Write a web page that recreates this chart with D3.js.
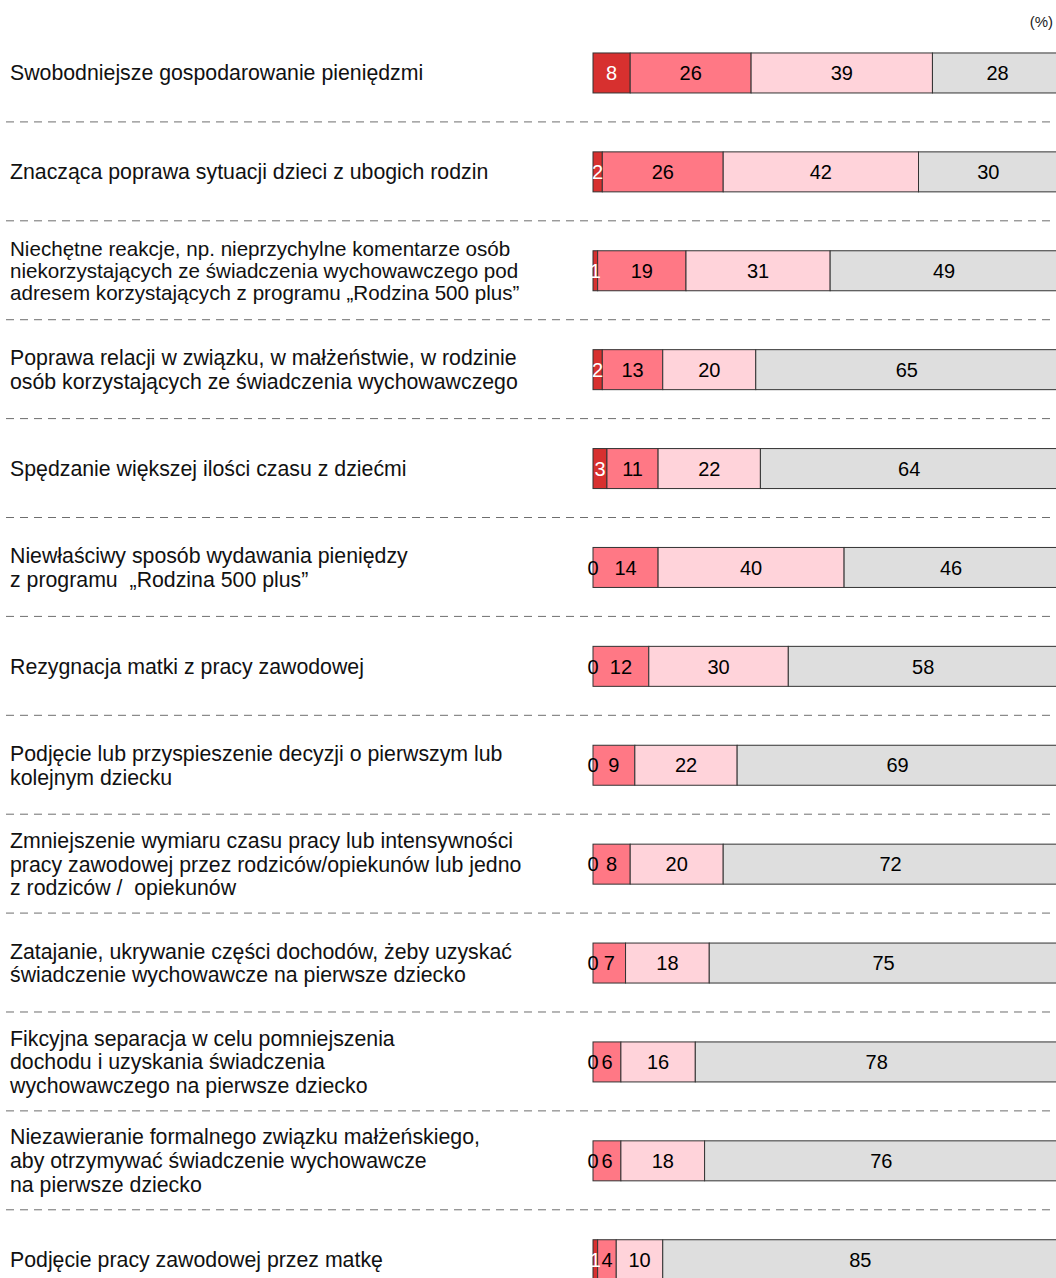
<!DOCTYPE html>
<html>
<head>
<meta charset="utf-8">
<script src="https://cdn.jsdelivr.net/npm/d3@7"></script>
<style>
body{margin:0;background:#fff;}
svg{display:block;font-family:"Liberation Sans",Arial,sans-serif;}
</style>
</head>
<body>
<div id="chart"></div>
<script>
// categories (label lines)
var categories = [
	["Swobodniejsze gospodarowanie pieniędzmi"],
	["Znacząca poprawa sytuacji dzieci z ubogich rodzin"],
	["Niechętne reakcje, np. nieprzychylne komentarze osób", "niekorzystających ze świadczenia wychowawczego pod", "adresem korzystających z programu „Rodzina 500 plus”"],
	["Poprawa relacji w związku, w małżeństwie, w rodzinie", "osób korzystających ze świadczenia wychowawczego"],
	["Spędzanie większej ilości czasu z dziećmi"],
	["Niewłaściwy sposób wydawania pieniędzy", "z programu  „Rodzina 500 plus”"],
	["Rezygnacja matki z pracy zawodowej"],
	["Podjęcie lub przyspieszenie decyzji o pierwszym lub", "kolejnym dziecku"],
	["Zmniejszenie wymiaru czasu pracy lub intensywności", "pracy zawodowej przez rodziców/opiekunów lub jedno", "z rodziców /  opiekunów"],
	["Zatajanie, ukrywanie części dochodów, żeby uzyskać", "świadczenie wychowawcze na pierwsze dziecko"],
	["Fikcyjna separacja w celu pomniejszenia", "dochodu i uzyskania świadczenia", "wychowawczego na pierwsze dziecko"],
	["Niezawieranie formalnego związku małżeńskiego,", "aby otrzymywać świadczenie wychowawcze", "na pierwsze dziecko"],
	["Podjęcie pracy zawodowej przez matkę"]
];
// series values (%)
var series1 = [8, 2, 1, 2, 3, 0, 0, 0, 0, 0, 0, 0, 1];
var series2 = [26, 26, 19, 13, 11, 14, 12, 9, 8, 7, 6, 6, 4];
var series3 = [39, 42, 31, 20, 22, 40, 30, 22, 20, 18, 16, 18, 10];
var series4 = [28, 30, 49, 65, 64, 46, 58, 69, 72, 75, 78, 76, 85];
var xDomain = [0, 100];

var colors = ["#d7302f", "#ff7885", "#ffd3da", "#dedede"];
var textColors = ["#fff", "#000", "#000", "#000"];

var width = 1056, height = 1278;
var svg = d3.select("#chart").append("svg")
	.attr("width", width)
	.attr("height", height);

var xscale = d3.scaleLinear().domain(xDomain).range([593, 1058]);
var yscale = d3.scaleBand()
	.domain(d3.range(categories.length))
	.range([23.5, 23.5 + 98.9 * categories.length])
	.paddingInner(0.5956).paddingOuter(0.298);
var barH = yscale.bandwidth();
var step = yscale.step();

svg.append("text")
	.attr("x", 1053).attr("y", 27)
	.attr("text-anchor", "end")
	.attr("font-size", 15)
	.attr("fill", "#222")
	.text("(%)");

// separators
svg.selectAll(".sep")
	.data(d3.range(1, categories.length))
	.enter().append("line")
	.attr("x1", 6).attr("x2", width)
	.attr("y1", function(d){ return yscale(d) - (step - barH) / 2 - 0.5; })
	.attr("y2", function(d){ return yscale(d) - (step - barH) / 2 - 0.5; })
	.attr("stroke", "#6e6e6e")
	.attr("stroke-width", 1)
	.attr("stroke-dasharray", "8,6");

// labels
categories.forEach(function(lines, i){
	var cy = yscale(i) + barH / 2;
	var lh = i == 2 ? 21.7 : 23.8;
	var t = svg.append("text")
		.attr("font-size", i == 2 ? 20.6 : 21.3)
		.attr("fill", "#111")
		.style("white-space", "pre");
	lines.forEach(function(l, j){
		t.append("tspan")
			.attr("x", 10)
			.attr("y", cy + (j - (lines.length - 1) / 2) * lh)
			.attr("dy", "0.35em")
			.text(l);
	});
});

// stacked bars
var all = [series1, series2, series3, series4];
categories.forEach(function(c, i){
	var acc = 0;
	var g = svg.append("g");
	all.forEach(function(s, k){
		var v = s[i];
		var x0 = xscale(acc), x1 = xscale(acc + v);
		if (v > 0) {
			g.append("rect")
				.attr("x", x0).attr("y", yscale(i))
				.attr("width", x1 - x0).attr("height", barH)
				.attr("fill", colors[k])
				.attr("stroke", "#333")
				.attr("stroke-width", 1);
		}
		acc += v;
	});
	acc = 0;
	all.forEach(function(s, k){
		var v = s[i];
		var mid = (xscale(acc) + xscale(acc + v)) / 2;
		g.append("text")
			.attr("x", mid)
			.attr("y", yscale(i) + barH / 2)
			.attr("dy", "0.36em")
			.attr("text-anchor", "middle")
			.attr("font-size", 20)
			.attr("fill", v == 0 ? "#000" : textColors[k])
			.text(v);
		acc += v;
	});
});
</script>
</body>
</html>
